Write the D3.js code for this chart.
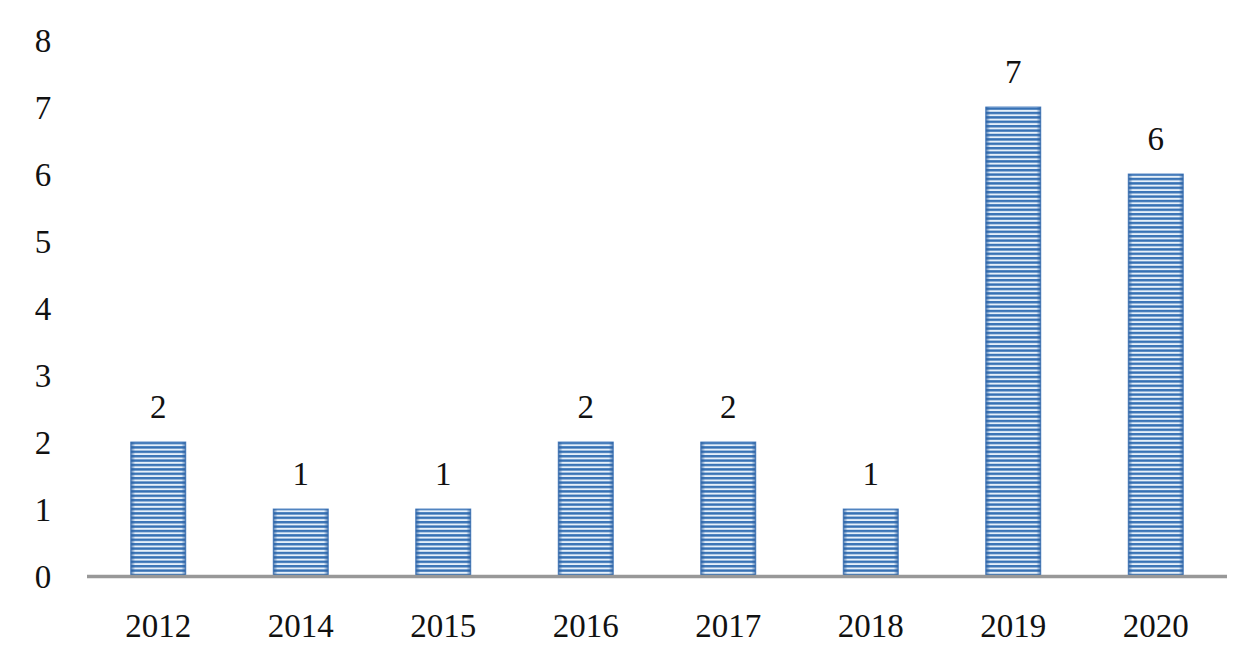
<!DOCTYPE html>
<html>
<head>
<meta charset="utf-8">
<script src="https://cdn.jsdelivr.net/npm/d3@7"></script>
<style>
  body { margin: 0; background: #fff; }
  text { font-family: "Liberation Serif", "DejaVu Serif", serif; fill: #111; }
</style>
</head>
<body>
<svg id="chart"></svg>
<script>
// jaartallen en aantallen
const years = ["2012", "2014", "2015", "2016", "2017", "2018", "2019", "2020"];
const counts = [2, 1, 1, 2, 2, 1, 7, 6];
const yTicks = [0, 1, 2, 3, 4, 5, 6, 7, 8];

const width = 1244;
const height = 662;
const svg = d3.select('#chart')
  .attr('width', width)
  .attr('height', height);

// schalen
const x = d3.scaleBand()
  .domain(years)
  .range([87, 1227])
  .paddingInner(0.614)
  .paddingOuter(0.307);
const y = d3.scaleLinear()
  .domain([0, 8])
  .range([576, 40]);

// streepjespatroon voor de balken
const defs = svg.append('defs');
const pat = defs.append('pattern')
  .attr('id', 'stripes')
  .attr('patternUnits', 'userSpaceOnUse')
  .attr('width', 10)
  .attr('height', 4.4);
pat.append('rect').attr('width', 10).attr('height', 4.4).attr('fill', '#e6f0fa');
pat.append('rect').attr('y', 1.8).attr('width', 10).attr('height', 2.4).attr('fill', '#3570b4');

// zijkanten iets donkerder
const grad = defs.append('linearGradient').attr('id', 'edge');
grad.append('stop').attr('offset', '0%').attr('stop-color', '#2d62a3').attr('stop-opacity', 0.8);
grad.append('stop').attr('offset', '8%').attr('stop-color', '#2d62a3').attr('stop-opacity', 0);
grad.append('stop').attr('offset', '92%').attr('stop-color', '#2d62a3').attr('stop-opacity', 0);
grad.append('stop').attr('offset', '100%').attr('stop-color', '#2d62a3').attr('stop-opacity', 0.8);

const data = years.map((yr, i) => ({ year: yr, value: counts[i] }));

// balken
svg.selectAll('rect.bar')
  .data(data)
  .enter()
  .append('rect')
  .attr('class', 'bar')
  .attr('x', d => x(d.year))
  .attr('y', d => y(d.value))
  .attr('width', x.bandwidth())
  .attr('height', d => y(0) - y(d.value))
  .attr('fill', 'url(#stripes)')
  .attr('stroke', '#5a8ac6')
  .attr('stroke-width', 1);

svg.selectAll('rect.edge')
  .data(data)
  .enter()
  .append('rect')
  .attr('class', 'edge')
  .attr('x', d => x(d.year))
  .attr('y', d => y(d.value))
  .attr('width', x.bandwidth())
  .attr('height', d => y(0) - y(d.value))
  .attr('fill', 'url(#edge)');

// x-as lijn
svg.append('line')
  .attr('x1', 87).attr('x2', 1227)
  .attr('y1', y(0) + 0.5).attr('y2', y(0) + 0.5)
  .attr('stroke', '#989898')
  .attr('stroke-width', 3.5);

// y-as labels
svg.selectAll('text.ytick')
  .data(yTicks)
  .enter()
  .append('text')
  .attr('class', 'ytick')
  .attr('x', 43)
  .attr('y', d => y(d))
  .attr('dy', '0.35em')
  .attr('text-anchor', 'middle')
  .style('font-size', '33px')
  .text(d => d);

// x-as labels
svg.selectAll('text.xtick')
  .data(years)
  .enter()
  .append('text')
  .attr('class', 'xtick')
  .attr('x', d => x(d) + x.bandwidth() / 2)
  .attr('y', 637)
  .attr('text-anchor', 'middle')
  .style('font-size', '33px')
  .text(d => d);

// waardes boven de balken
svg.selectAll('text.val')
  .data(data)
  .enter()
  .append('text')
  .attr('class', 'val')
  .attr('x', d => x(d.year) + x.bandwidth() / 2)
  .attr('y', d => y(d.value) - 24)
  .attr('text-anchor', 'middle')
  .style('font-size', '33px')
  .text(d => d.value);
</script>
</body>
</html>
